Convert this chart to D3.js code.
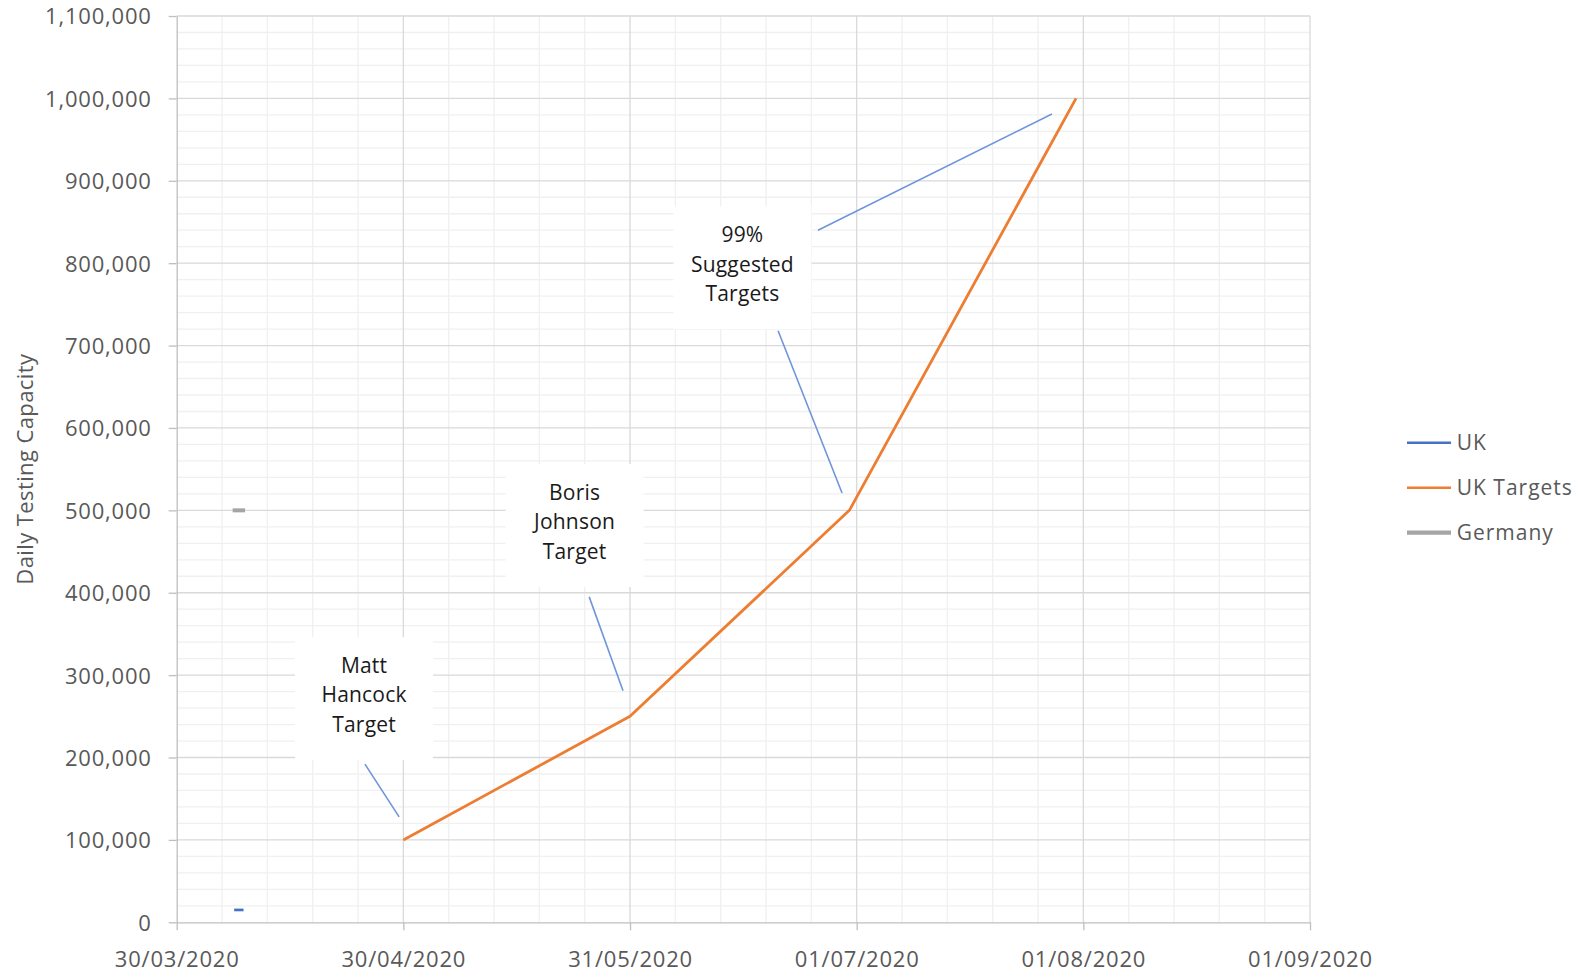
<!DOCTYPE html>
<html>
<head>
<meta charset="utf-8">
<script src="https://cdn.jsdelivr.net/npm/d3@7"></script>
<style>
  html, body { margin: 0; padding: 0; background: #fff; }
  text { font-family: "Open Sans", "Noto Sans", sans-serif; }
</style>
</head>
<body>
<div id="container"></div>
<script>
const WIDTH = 1573;
const HEIGHT = 974;
const MARGIN = { TOP: 16, LEFT: 176.7, RIGHT: 263, BOTTOM: 51.7 };

const width = WIDTH - MARGIN.LEFT - MARGIN.RIGHT;
const height = HEIGHT - MARGIN.TOP - MARGIN.BOTTOM;

// data
const ukDates = ['2020-04-07T12:00'];
const ukValues = [15000];
const targetDates = ['2020-04-30', '2020-05-31', '2020-06-30', '2020-07-31'];
const targetValues = [100000, 250000, 500000, 1000000];
const germanyDates = ['2020-04-07T12:00'];
const germanyValues = [500000];

const xTickDates = ['2020-03-30', '2020-04-30', '2020-05-31', '2020-07-01', '2020-08-01', '2020-09-01'];
const yTickValues = [0, 100000, 200000, 300000, 400000, 500000, 600000, 700000, 800000, 900000, 1000000, 1100000];
const seriesNames = ['UK', 'UK Targets', 'Germany'];
const yTitle = 'Daily Testing Capacity';

// callouts: text lines, text centre, leader line [from, to]
const calloutTexts = [['Matt', 'Hancock', 'Target'], ['Boris', 'Johnson', 'Target'], ['99%', 'Suggested', 'Targets']];
const calloutAnchors = [['2020-04-24T15:00', 280000], ['2020-05-23T10:00', 490000], ['2020-06-15T09:00', 803000]];
const calloutLeaders = [
  [['2020-04-24T18:00', 192000], ['2020-04-29T10:00', 128000]],
  [['2020-05-25T10:00', 395000], ['2020-05-30T01:00', 281000]],
  [['2020-06-20T06:00', 718000], ['2020-06-29T00:00', 521000]],
  [['2020-06-25T17:00', 840000], ['2020-07-27T17:00', 981000]]
];

const parse = s => new Date(s + (s.length > 10 ? 'Z' : ''));
const fmtDate = d3.utcFormat('%d/%m/%Y');
const fmtNum = d3.format(',');

const COLORS = { UK: '#4472C4', 'UK Targets': '#ED7D31', Germany: '#A5A5A5' };
const TEXT = '#595959';

const svg = d3.select('#container')
              .append('svg')
                .attr('width', WIDTH)
                .attr('height', HEIGHT);

const g = svg.append('g')
             .attr('transform', `translate(${MARGIN.LEFT}, ${MARGIN.TOP})`);

const xscale = d3.scaleUtc()
                 .domain([parse(xTickDates[0]), parse(xTickDates[xTickDates.length - 1])])
                 .range([0, width]);
const yscale = d3.scaleLinear()
                 .domain([0, 1100000])
                 .range([height, 0]);

// minor ticks: 5 steps between major ticks
const majorX = xTickDates.map(parse);
const minorX = [];
majorX.slice(1).forEach((d, i) => {
    const a = +majorX[i];
    for (let k = 1; k < 5; k++) minorX.push(new Date(a + (d - a) * k / 5));
});
const minorY = [];
yTickValues.slice(1).forEach((v, i) => {
    for (let k = 1; k < 5; k++) minorY.push(yTickValues[i] + (v - yTickValues[i]) * k / 5);
});

// grid
const grid = g.append('g');
grid.selectAll('.minor-x').data(minorX).enter()
    .append('line')
      .attr('x1', d => xscale(d)).attr('x2', d => xscale(d))
      .attr('y1', 0).attr('y2', height)
      .attr('stroke', '#F0F0F0').attr('stroke-width', 1.3);
grid.selectAll('.minor-y').data(minorY).enter()
    .append('line')
      .attr('y1', d => yscale(d)).attr('y2', d => yscale(d))
      .attr('x1', 0).attr('x2', width)
      .attr('stroke', '#F0F0F0').attr('stroke-width', 1.3);
grid.selectAll('.major-x').data(majorX.slice(1)).enter()
    .append('line')
      .attr('x1', d => xscale(d)).attr('x2', d => xscale(d))
      .attr('y1', 0).attr('y2', height)
      .attr('stroke', '#D9D9D9').attr('stroke-width', 1.3);
grid.selectAll('.major-y').data(yTickValues.slice(1)).enter()
    .append('line')
      .attr('y1', d => yscale(d)).attr('y2', d => yscale(d))
      .attr('x1', 0).attr('x2', width)
      .attr('stroke', '#D9D9D9').attr('stroke-width', 1.3);

// axes
const axisLeft = d3.axisLeft(yscale).tickValues(yTickValues).tickFormat(fmtNum)
                   .tickSizeInner(8).tickSizeOuter(0).tickPadding(17);
const axisBottom = d3.axisBottom(xscale).tickValues(majorX).tickFormat(fmtDate)
                     .tickSizeInner(8).tickSizeOuter(0).tickPadding(21);

const yAxis = g.append('g').call(axisLeft);
const xAxis = g.append('g').attr('transform', `translate(0, ${height})`).call(axisBottom);

[yAxis, xAxis].forEach(ax => {
    ax.select('.domain').attr('stroke', '#BFBFBF').attr('stroke-width', 1.3);
    ax.selectAll('.tick line').attr('stroke', '#BFBFBF').attr('stroke-width', 1.3);
    ax.selectAll('.tick text')
      .attr('fill', TEXT)
      .style('font-size', '22px')
      .style('letter-spacing', '0.8px');
});
yAxis.selectAll('.tick text').attr('dy', '0.36em');
xAxis.selectAll('.tick text').attr('dy', '0.72em');

svg.append('text')
   .attr('transform', `translate(33, ${MARGIN.TOP + yscale(550000)}) rotate(-90)`)
   .attr('text-anchor', 'middle')
   .attr('fill', TEXT)
   .style('font-size', '22px')
   .style('letter-spacing', '0.4px')
   .text(yTitle);

// callout boxes + text
const BOX_W = 138;
const BOX_H = 123;
const callouts = g.selectAll('.callout')
    .data(calloutTexts.map((t, i) => ({ lines: t, date: parse(calloutAnchors[i][0]), value: calloutAnchors[i][1] })))
    .enter()
    .append('g')
      .attr('transform', d => `translate(${xscale(d.date)}, ${yscale(d.value)})`);

callouts.append('rect')
    .attr('x', -BOX_W / 2)
    .attr('y', -BOX_H / 2 + 7)
    .attr('width', BOX_W)
    .attr('height', BOX_H)
    .attr('fill', '#fff');

callouts.append('text')
    .attr('text-anchor', 'middle')
    .attr('fill', '#1a1a1a')
    .style('font-size', '21px')
    .style('letter-spacing', '0.2px')
    .selectAll('tspan')
    .data(d => d.lines)
    .enter()
    .append('tspan')
      .attr('x', 0)
      .attr('y', (d, i) => -18.5 + i * 29.3)
      .text(d => d);

g.selectAll('.leader').data(calloutLeaders).enter()
    .append('line')
      .attr('x1', d => xscale(parse(d[0][0])))
      .attr('y1', d => yscale(d[0][1]))
      .attr('x2', d => xscale(parse(d[1][0])))
      .attr('y2', d => yscale(d[1][1]))
      .attr('stroke', '#6F96DA')
      .attr('stroke-width', 1.6);

// series
const line = d3.line().x(d => xscale(d[0])).y(d => yscale(d[1]));
g.append('path')
 .datum(targetDates.map((d, i) => [parse(d), targetValues[i]]))
 .attr('d', line)
 .attr('fill', 'none')
 .attr('stroke', COLORS['UK Targets'])
 .attr('stroke-width', 2.8)
 .attr('stroke-linejoin', 'round');

// single points drawn as short dashes
const dash = (dates, values, color, w, half) => {
    g.selectAll(null).data(dates.map((d, i) => [parse(d), values[i]])).enter()
     .append('line')
       .attr('x1', d => xscale(d[0]) - half)
       .attr('x2', d => xscale(d[0]) + half)
       .attr('y1', d => yscale(d[1]))
       .attr('y2', d => yscale(d[1]))
       .attr('stroke', color)
       .attr('stroke-width', w);
};
dash(ukDates, ukValues, COLORS.UK, 2.7, 4.7);
dash(germanyDates, germanyValues, COLORS.Germany, 4, 6.2);

// legend
const legend = svg.append('g').attr('transform', 'translate(1407, 442.7)');
const items = legend.selectAll('g').data(seriesNames).enter()
    .append('g')
      .attr('transform', (d, i) => `translate(0, ${i * 45})`);
items.append('line')
     .attr('x1', 0).attr('x2', 44)
     .attr('stroke', d => COLORS[d])
     .attr('stroke-width', d => d === 'Germany' ? 4.2 : 2.6);
items.append('text')
     .attr('x', 49.7)
     .attr('dy', '0.36em')
     .attr('fill', TEXT)
     .style('font-size', '21px')
     .style('letter-spacing', '1px')
     .text(d => d);
</script>
</body>
</html>
